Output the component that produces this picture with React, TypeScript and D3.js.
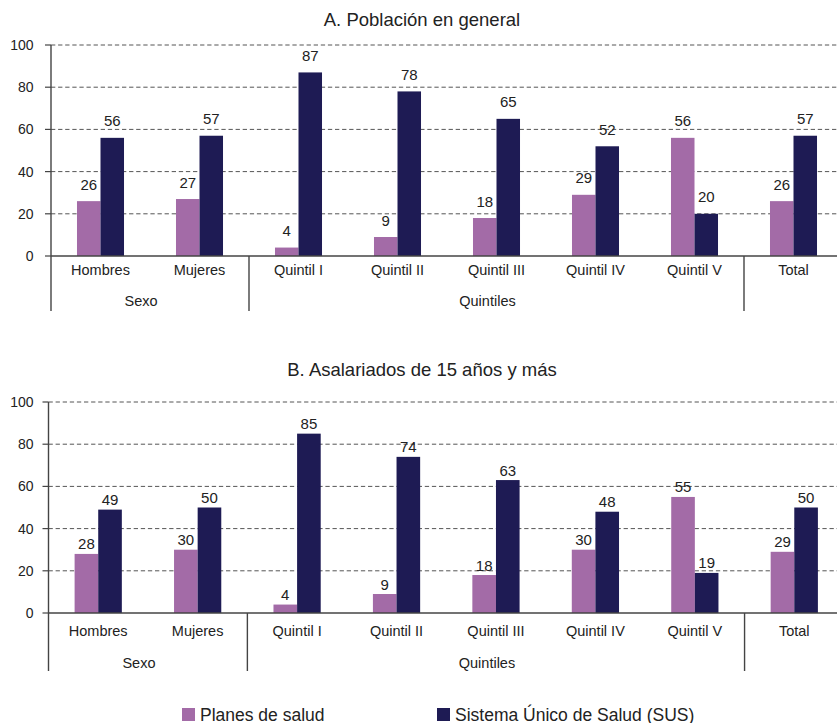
import React from "react";
import * as d3 from "d3";

const categories = ["Hombres", "Mujeres", "Quintil I", "Quintil II", "Quintil III", "Quintil IV", "Quintil V", "Total"];
const groupNames = ["Sexo", "Quintiles", ""];
const groupStarts = [0, 2, 7];
const groupEnds = [1, 6, 7];
const seriesNames = ["Planes de salud", "Sistema Único de Salud (SUS)"];
const planesA = [26, 27, 4, 9, 18, 29, 56, 26];
const susA = [56, 57, 87, 78, 65, 52, 20, 57];
const planesB = [28, 30, 4, 9, 18, 30, 55, 29];
const susB = [49, 50, 85, 74, 63, 48, 19, 50];
const yTicks = [0, 20, 40, 60, 80, 100];
const titles = ["A. Población en general", "B. Asalariados de 15 años y más"];

const COLORS = ["#A36BA7", "#1E1B54"];
const FONT = "'Liberation Sans', Arial, sans-serif";
const TEXT = "#222";

type PanelProps = {
  title: string;
  planes: number[];
  sus: number[];
  titleY: number;
  plotTop: number;
  left: number;
  right: number;
  labelGap: number;
  catDy: number;
  groupDy: number;
  sepDy: number;
};

function Panel({ title, planes, sus, titleY, plotTop, left, right, labelGap, catDy, groupDy, sepDy }: PanelProps) {
  const plotBottom = plotTop + 211;
  const axisBottom = plotBottom + sepDy;
  const y = d3.scaleLinear().domain([0, 100]).range([plotBottom, plotTop]);
  const x0 = d3
    .scaleBand<string>()
    .domain(categories)
    .range([left, right])
    .paddingInner(0.525)
    .paddingOuter(0.2625);
  const x1 = d3.scaleBand<string>().domain(["p", "s"]).range([0, x0.bandwidth()]);
  const step = x0.step();
  const bounds = (i: number) => left + i * step;
  return (
    <g>
      <text x={422} y={titleY} textAnchor="middle" fontSize={18.5} fill={TEXT} fontFamily={FONT}>
        {title}
      </text>
      {yTicks.map((t) => (
        <g key={t}>
          {t > 0 && (
            <line x1={left} x2={837} y1={y(t)} y2={y(t)} stroke="#555" strokeWidth={1} strokeDasharray="4.3,2.8" />
          )}
          <line x1={left - 6} x2={left} y1={y(t)} y2={y(t)} stroke="#444" strokeWidth={1.2} />
          <text x={33.5} y={y(t) + 5} textAnchor="end" fontSize={14} fill={TEXT} fontFamily={FONT}>
            {t}
          </text>
        </g>
      ))}
      {categories.map((c, i) => {
        const vals = [planes[i], sus[i]];
        return (
          <g key={c}>
            {vals.map((v, j) => {
              const bx = (x0(c) as number) + (x1(j === 0 ? "p" : "s") as number);
              return (
                <g key={j}>
                  <rect x={bx} y={y(v)} width={x1.bandwidth()} height={plotBottom - y(v)} fill={COLORS[j]} />
                  <text
                    x={bx + x1.bandwidth() / 2}
                    y={y(v) - labelGap}
                    textAnchor="middle"
                    fontSize={15}
                    fill={TEXT}
                    fontFamily={FONT}
                  >
                    {v}
                  </text>
                </g>
              );
            })}
            <text
              x={(x0(c) as number) + x0.bandwidth() / 2}
              y={plotBottom + catDy}
              textAnchor="middle"
              fontSize={14.5}
              fill={TEXT}
              fontFamily={FONT}
            >
              {c}
            </text>
          </g>
        );
      })}
      <line x1={left} x2={837} y1={plotBottom} y2={plotBottom} stroke="#444" strokeWidth={1.4} />
      <line x1={left} x2={left} y1={plotTop} y2={axisBottom} stroke="#444" strokeWidth={1.4} />
      {groupNames.map((g, gi) => {
        const x = bounds(groupEnds[gi] + 1);
        const mid = (bounds(groupStarts[gi]) + bounds(groupEnds[gi] + 1)) / 2 - 9;
        return (
          <g key={gi}>
            {x < 837 && <line x1={x} x2={x} y1={plotBottom} y2={axisBottom} stroke="#444" strokeWidth={1.4} />}
            {g && (
              <text x={mid} y={plotBottom + groupDy} textAnchor="middle" fontSize={14.5} fill={TEXT} fontFamily={FONT}>
                {g}
              </text>
            )}
          </g>
        );
      })}
    </g>
  );
}

export default function App() {
  const legendX = [182, 437];
  return (
    <svg width={837} height={723} style={{ display: "block", position: "absolute", left: 0, top: 0 }}>
      <rect width={837} height={723} fill="#fff" />
      <Panel
        title={titles[0]}
        planes={planesA}
        sus={susA}
        titleY={25.5}
        plotTop={45}
        left={51}
        right={843}
        labelGap={11.5}
        catDy={19}
        groupDy={50}
        sepDy={55}
      />
      <Panel
        title={titles[1]}
        planes={planesB}
        sus={susB}
        titleY={376}
        plotTop={402}
        left={48.5}
        right={844}
        labelGap={4.5}
        catDy={23}
        groupDy={55}
        sepDy={58}
      />
      {seriesNames.map((s, i) => (
        <g key={s}>
          <rect x={legendX[i]} y={708} width={13} height={13} fill={COLORS[i]} />
          <text x={legendX[i] + 18} y={720.5} fontSize={17.5} fill={TEXT} fontFamily={FONT}>
            {s}
          </text>
        </g>
      ))}
    </svg>
  );
}
